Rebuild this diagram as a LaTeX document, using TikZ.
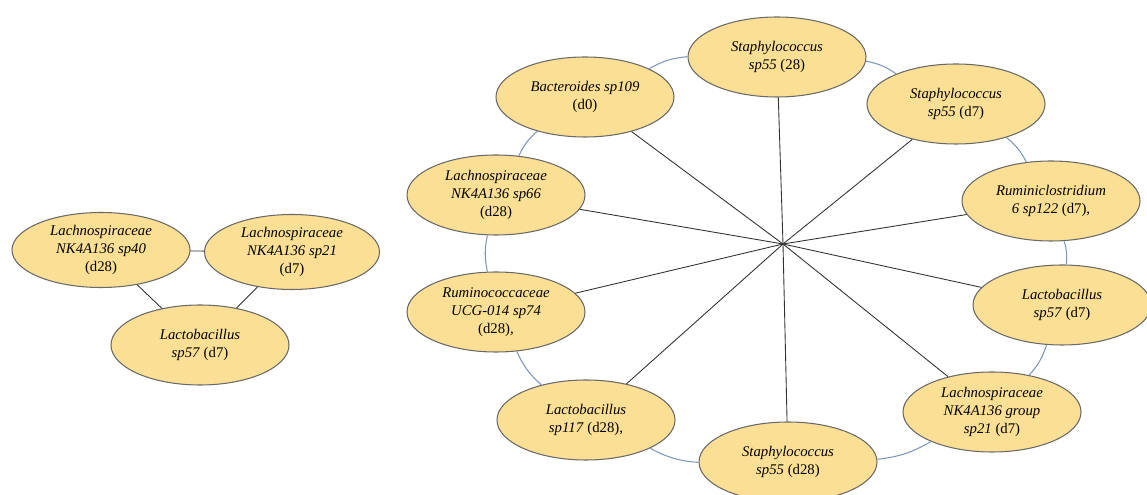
\documentclass[tikz,border=0pt]{standalone}
\usepackage{fontspec}
\setmainfont{Liberation Serif}
\usetikzlibrary{shapes.geometric}
\definecolor{taxonfill}{RGB}{250,223,148}
\definecolor{taxonline}{RGB}{105,105,105}
\definecolor{ringline}{RGB}{125,150,190}
\definecolor{spokeline}{RGB}{50,50,50}
\tikzset{
  taxon/.style={ellipse, draw=taxonline, fill=taxonfill, line width=0.6pt,
    minimum width=3.56cm, minimum height=1.6cm, inner sep=0pt, align=center,
    font=\fontsize{8.4}{10.2}\selectfont},
  ringlink/.style={ringline, line width=0.6pt},
  spoke/.style={spokeline, line width=0.5pt}
}
\begin{document}
\begin{tikzpicture}
    \useasboundingbox (0,0) rectangle (22.94,9.9);

    % Small cluster (left)
    \node[taxon, minimum height=1.5cm] (lachA) at (2.02,4.90) {\textit{Lachnospiraceae}\\\textit{NK4A136 sp40}\\(d28)};
    \node[taxon, minimum width=3.5cm, minimum height=1.5cm] (lachB) at (5.84,4.86) {\textit{Lachnospiraceae}\\\textit{NK4A136 sp21}\\(d7)};
    \node[taxon] (lactoL) at (4.00,3.00) {\textit{Lactobacillus}\\\textit{sp57} (d7)};
    \draw[spoke] (lachA) -- (lachB);
    \draw[spoke] (lachA) -- (lactoL);
    \draw[spoke] (lachB) -- (lactoL);

    % Large cluster (ring around a hub)
    \coordinate (hub) at (15.66,5.02);
    \node[taxon] (staphA) at (15.54,8.76) {\textit{Staphylococcus}\\\textit{sp55} (28)};
    \node[taxon] (staphB) at (19.12,7.82) {\textit{Staphylococcus}\\\textit{sp55} (d7)};
    \node[taxon] (rumcl)  at (21.02,5.88) {\textit{Ruminiclostridium}\\\textit{6 sp122} (d7),};
    \node[taxon] (lactoR) at (21.24,3.80) {\textit{Lactobacillus}\\\textit{sp57} (d7)};
    \node[taxon] (lachD)  at (19.84,1.66) {\textit{Lachnospiraceae}\\\textit{NK4A136 group}\\\textit{sp21} (d7)};
    \node[taxon] (staphC) at (15.76,0.66) {\textit{Staphylococcus}\\\textit{sp55} (d28)};
    \node[taxon] (lactoS) at (11.72,1.50) {\textit{Lactobacillus}\\\textit{sp117} (d28),};
    \node[taxon] (rumco)  at (9.92,3.66)  {\textit{Ruminococcaceae}\\\textit{UCG-014 sp74}\\(d28),};
    \node[taxon] (lachC)  at (9.92,6.00)  {\textit{Lachnospiraceae}\\\textit{NK4A136 sp66}\\(d28)};
    \node[taxon] (bact)   at (11.70,7.96) {\textit{Bacteroides sp109}\\(d0)};

    % Ring links between neighbours
    \foreach \a/\b in {staphA/staphB, staphB/rumcl, rumcl/lactoR, lactoR/lachD, lachD/staphC,
                       staphC/lactoS, lactoS/rumco, rumco/lachC, lachC/bact, bact/staphA}
        \draw[ringlink] (\a) to[bend left=12] (\b);

    % Spokes from the hub
    \foreach \n in {staphA, staphB, rumcl, lactoR, lachD, staphC, lactoS, rumco, lachC, bact}
        \draw[spoke] (hub) -- (\n);
\end{tikzpicture}
\end{document}
